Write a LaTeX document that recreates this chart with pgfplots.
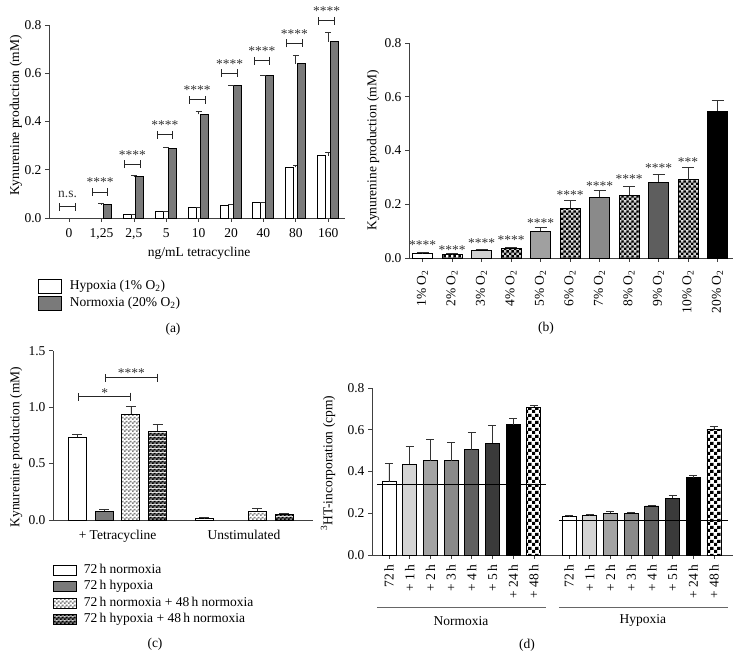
\documentclass[border=0pt]{standalone}
\usepackage{fontspec}
\setmainfont{Liberation Serif}
\usepackage{pgfplots}
\pgfplotsset{compat=1.18}
\usetikzlibrary{patterns,arrows.meta}
\newcommand\fs{\fontsize{13.5}{16}\selectfont}
\definecolor{ngrey}{HTML}{7A7A7A}
\definecolor{cthree}{HTML}{D0D0D0}
\definecolor{cfive}{HTML}{A0A0A0}
\definecolor{cseven}{HTML}{8A8A8A}
\definecolor{cnine}{HTML}{5E5E5E}
\definecolor{done}{HTML}{D4D4D4}
\definecolor{dtwo}{HTML}{A3A3A3}
\definecolor{dthree}{HTML}{8A8A8A}
\definecolor{dfour}{HTML}{606060}
\definecolor{dfive}{HTML}{3A3A3A}
% checker patterns
\pgfdeclarepatterninherentlycolored{chkB}{\pgfpointorigin}{\pgfqpoint{4.8pt}{4.8pt}}{\pgfqpoint{4.8pt}{4.8pt}}{%
  \pgfsetfillcolor{black!20}%
  \pgfpathrectangle{\pgfpointorigin}{\pgfqpoint{4.8pt}{4.8pt}}\pgfusepath{fill}%
  \pgfsetfillcolor{black}%
  \pgfpathrectangle{\pgfpointorigin}{\pgfqpoint{2.4pt}{2.4pt}}%
  \pgfpathrectangle{\pgfqpoint{2.4pt}{2.4pt}}{\pgfqpoint{2.4pt}{2.4pt}}\pgfusepath{fill}}
\pgfdeclarepatterninherentlycolored{chkW}{\pgfpointorigin}{\pgfqpoint{4.8pt}{4.8pt}}{\pgfqpoint{4.8pt}{4.8pt}}{%
  \pgfsetfillcolor{white}%
  \pgfpathrectangle{\pgfpointorigin}{\pgfqpoint{4.8pt}{4.8pt}}\pgfusepath{fill}%
  \pgfsetfillcolor{black}%
  \pgfpathrectangle{\pgfpointorigin}{\pgfqpoint{2.4pt}{2.4pt}}%
  \pgfpathrectangle{\pgfqpoint{2.4pt}{2.4pt}}{\pgfqpoint{2.4pt}{2.4pt}}\pgfusepath{fill}}
\pgfdeclarepatterninherentlycolored{chkL}{\pgfpointorigin}{\pgfqpoint{4pt}{4pt}}{\pgfqpoint{4pt}{4pt}}{%
  \pgfsetfillcolor{white}%
  \pgfpathrectangle{\pgfpointorigin}{\pgfqpoint{4pt}{4pt}}\pgfusepath{fill}%
  \pgfsetfillcolor{black!50}%
  \pgfpathrectangle{\pgfpointorigin}{\pgfqpoint{2pt}{2pt}}%
  \pgfpathrectangle{\pgfqpoint{2pt}{2pt}}{\pgfqpoint{2pt}{2pt}}\pgfusepath{fill}}
\pgfdeclarepatterninherentlycolored{chkD}{\pgfpointorigin}{\pgfqpoint{4pt}{4pt}}{\pgfqpoint{4pt}{4pt}}{%
  \pgfsetfillcolor{black!50}%
  \pgfpathrectangle{\pgfpointorigin}{\pgfqpoint{4pt}{4pt}}\pgfusepath{fill}%
  \pgfsetfillcolor{black}%
  \pgfpathrectangle{\pgfpointorigin}{\pgfqpoint{2pt}{2pt}}%
  \pgfpathrectangle{\pgfqpoint{2pt}{2pt}}{\pgfqpoint{2pt}{2pt}}\pgfusepath{fill}}
\pgfdeclarepatterninherentlycolored{chkBig}{\pgfpointorigin}{\pgfqpoint{7pt}{7pt}}{\pgfqpoint{7pt}{7pt}}{%
  \pgfsetfillcolor{white}%
  \pgfpathrectangle{\pgfpointorigin}{\pgfqpoint{7pt}{7pt}}\pgfusepath{fill}%
  \pgfsetfillcolor{black}%
  \pgfpathrectangle{\pgfpointorigin}{\pgfqpoint{3.5pt}{3.5pt}}%
  \pgfpathrectangle{\pgfqpoint{3.5pt}{3.5pt}}{\pgfqpoint{3.5pt}{3.5pt}}\pgfusepath{fill}}

\pgfplotsset{
  panel/.style={
    scale only axis, clip=false,
    axis lines=left, axis line style={-, line width=0.8pt, black!75},
    tick style={line width=0.7pt, black!75},
    tick align=outside, major tick length=4pt,
    ymin=0,
    /pgf/number format/assume math mode=true,
    tick label style={font=\fs},
    label style={font=\fs},
    y tick label style={/pgf/number format/fixed, /pgf/number format/fixed zerofill, /pgf/number format/precision=1},
    legend style={draw=none, fill=none, inner sep=0pt, outer sep=0pt, font=\fs,
      nodes={inner sep=0pt, text height=9pt, text depth=3pt}},
    legend cell align=left,
  },
  mybar/.style={ybar, draw=black, line width=0.8pt, bar shift=0pt},
  eb/.style={error bars/y dir=plus, error bars/y explicit,
    error bars/error bar style={line width=0.7pt, black!80},
    error bars/error mark options={rotate=90, mark size=#1, line width=0.7pt, black!80}},
}
\newcommand\brk[6]{%
  \draw[{Bar[width=8pt,line width=0.8pt]}-{Bar[width=8pt,line width=0.8pt]}, line width=0.8pt, black!85] (axis cs:#1,#4) -- (axis cs:#2,#4);
  \node[anchor=base, font=\fs, text=black!80, inner sep=0pt, yshift=#6] at (axis cs:#3,#4) {#5};}
\newcommand\stars[3]{\node[anchor=base, font=\fs, text=black!80, inner sep=0pt, yshift=-6pt] at (axis cs:#1,#2) {#3};}

\begin{document}
\begin{tikzpicture}
\useasboundingbox (0,0) rectangle (742pt,672pt);

% ---------------- (a) ----------------
\begin{axis}[panel, at={(49pt,454pt)}, anchor=south west, width=296pt, height=193pt,
  xmin=-0.62, xmax=8.52, ymax=0.8,
  xtick={0,1,2,3,4,5,6,7,8}, xticklabels={0,{1,25},{2,5},5,10,20,40,80,160},
  ytick={0,0.2,0.4,0.6,0.8},
  x tick label style={yshift=-3pt},
  xlabel={ng/mL tetracycline}, ylabel={Kynurenine production (mM)},
  xlabel style={at={(axis description cs:0.507,-0.181)}, anchor=center},
  ylabel style={at={(axis description cs:-0.1115,0.53)}, anchor=center},
  legend style={at={(axis description cs:-0.037,-0.316)}, anchor=north west, row sep=2pt},
  legend image code/.code={\draw[#1, line width=0.8pt] (0pt,-7pt) rectangle (23pt,7pt); \path (31pt,0pt);},
]
\addplot[mybar, fill=white, bar width=8pt, bar shift=-6.5pt, eb=3pt] coordinates {
  (2,0.015) +- (0,0.002) (3,0.026) +- (0,0.002) (4,0.043) +- (0,0.002) (5,0.054) +- (0,0.002)
  (6,0.063) +- (0,0.002) (7,0.210) +- (0,0.008) (8,0.258) +- (0,0.013)};
\addlegendentry{Hypoxia (1\% O\textsubscript{2})}
\addplot[mybar, fill=ngrey, bar width=8pt, bar shift=6pt, eb=3pt] coordinates {
  (1,0.057) +- (0,0.002) (2,0.172) +- (0,0.004) (3,0.290) +- (0,0.003) (4,0.430) +- (0,0.010)
  (5,0.548) +- (0,0.003) (6,0.590) +- (0,0.002) (7,0.640) +- (0,0.036) (8,0.730) +- (0,0.038)};
\addlegendentry{Normoxia (20\% O\textsubscript{2})}
\brk{-0.3}{0.21}{-0.045}{0.046}{n.s.}{9pt}
\brk{0.7}{1.21}{0.955}{0.108}{****}{5pt}
\brk{1.7}{2.21}{1.955}{0.223}{****}{5pt}
\brk{2.7}{3.21}{2.955}{0.345}{****}{5pt}
\brk{3.7}{4.21}{3.955}{0.490}{****}{5pt}
\brk{4.7}{5.21}{4.955}{0.600}{****}{5pt}
\brk{5.7}{6.21}{5.955}{0.652}{****}{5pt}
\brk{6.7}{7.21}{6.955}{0.724}{****}{5pt}
\brk{7.7}{8.21}{7.955}{0.817}{****}{5pt}
\end{axis}

% ---------------- (b) ----------------
\begin{axis}[panel, at={(409pt,414pt)}, anchor=south west, width=324pt, height=215pt,
  xmin=-0.458, xmax=10.525, ymax=0.8,
  xtick={0,1,2,3,4,5,6,7,8,9,10},
  xticklabels={1\% O\textsubscript{2},2\% O\textsubscript{2},3\% O\textsubscript{2},4\% O\textsubscript{2},5\% O\textsubscript{2},6\% O\textsubscript{2},7\% O\textsubscript{2},8\% O\textsubscript{2},9\% O\textsubscript{2},10\% O\textsubscript{2},20\% O\textsubscript{2}},
  x tick label style={rotate=90, anchor=east, inner xsep=8pt},
  ytick={0,0.2,0.4,0.6,0.8},
  ylabel={Kynurenine production (mM)},
  ylabel style={at={(axis description cs:-0.111,0.5)}, anchor=center},
]
\addplot[mybar, fill=white, bar width=20pt, eb=6pt] coordinates {(0,0.016) +- (0,0.004)};
\addplot[mybar, pattern=chkW, bar width=20pt, eb=6pt] coordinates {(1,0.012) +- (0,0.004)};
\addplot[mybar, fill=cthree, bar width=20pt, eb=6pt] coordinates {(2,0.029) +- (0,0.003)};
\addplot[mybar, pattern=chkB, bar width=20pt, eb=6pt] coordinates {(3,0.037) +- (0,0.003)};
\addplot[mybar, fill=cfive, bar width=20pt, eb=6pt] coordinates {(4,0.099) +- (0,0.014)};
\addplot[mybar, pattern=chkB, bar width=20pt, eb=6pt] coordinates {(5,0.186) +- (0,0.027)};
\addplot[mybar, fill=cseven, bar width=20pt, eb=6pt] coordinates {(6,0.227) +- (0,0.026)};
\addplot[mybar, pattern=chkB, bar width=20pt, eb=6pt] coordinates {(7,0.233) +- (0,0.034)};
\addplot[mybar, fill=cnine, bar width=20pt, eb=6pt] coordinates {(8,0.283) +- (0,0.027)};
\addplot[mybar, pattern=chkB, bar width=20pt, eb=6pt] coordinates {(9,0.292) +- (0,0.044)};
\addplot[mybar, fill=black, bar width=20pt, eb=6pt] coordinates {(10,0.547) +- (0,0.040)};
\stars{0}{0.053}{****}
\stars{1}{0.035}{****}
\stars{2}{0.060}{****}
\stars{3}{0.072}{****}
\stars{4}{0.136}{****}
\stars{5}{0.240}{****}
\stars{6}{0.273}{****}
\stars{7}{0.298}{****}
\stars{8}{0.339}{****}
\stars{9}{0.364}{***}
\end{axis}

% ---------------- (c) ----------------
\begin{axis}[panel, at={(53pt,152pt)}, anchor=south west, width=260pt, height=169.3pt,
  xmin=-2.416, xmax=7.32, ymax=1.5,
  xtick={0,4.74}, xticklabels={+ Tetracycline,Unstimulated},
  xtick style={draw=none},
  x tick label style={yshift=-3pt},
  ytick={0,0.5,1,1.5},
  ylabel={Kynurenine production (mM)},
  ylabel style={at={(axis description cs:-0.142,0.43)}, anchor=center},
  legend style={at={(axis description cs:0,-0.262)}, anchor=north west, row sep=4.5pt},
  legend image code/.code={\draw[#1, line width=0.8pt] (0pt,-5pt) rectangle (23pt,5pt); \path (30pt,0pt);},
]
\addplot[mybar, fill=white, bar width=18pt, eb=5pt] coordinates {(-1.5,0.732) +- (0,0.030) (3.24,0.012) +- (0,0.008)};
\addlegendentry{72\,h normoxia}
\addplot[mybar, fill=ngrey, bar width=18pt, eb=5pt] coordinates {(-0.5,0.080) +- (0,0.011)};
\addlegendentry{72\,h hypoxia}
\addplot[mybar, pattern=chkL, bar width=18pt, eb=5pt] coordinates {(0.5,0.936) +- (0,0.071) (5.24,0.077) +- (0,0.023)};
\addlegendentry{72\,h normoxia + 48\,h normoxia}
\addplot[mybar, pattern=chkD, bar width=18pt, eb=5pt] coordinates {(1.5,0.788) +- (0,0.062) (6.24,0.050) +- (0,0.009)};
\addlegendentry{72\,h hypoxia + 48\,h normoxia}
\brk{-1.47}{0.51}{-0.48}{1.092}{*}{-1pt}
\brk{-0.47}{1.505}{0.52}{1.261}{****}{0pt}
\end{axis}

% ---------------- (d) ----------------
\begin{axis}[panel, at={(372pt,117pt)}, anchor=south west, width=361pt, height=167pt,
  xmin=-0.82, xmax=16.62, ymax=0.8,
  xtick={0,1,2,3,4,5,6,7,8.7,9.7,10.7,11.7,12.7,13.7,14.7,15.7},
  xticklabels={72\,h,+ 1\,h,+ 2\,h,+ 3\,h,+ 4\,h,+ 5\,h,+ 24\,h,+ 48\,h,72\,h,+ 1\,h,+ 2\,h,+ 3\,h,+ 4\,h,+ 5\,h,+ 24\,h,+ 48\,h},
  x tick label style={rotate=90, anchor=east, inner xsep=6pt},
  ytick={0,0.2,0.4,0.6,0.8},
  ylabel={\textsuperscript{3}HT-incorporation (cpm)},
  ylabel style={at={(axis description cs:-0.122,0.55)}, anchor=center},
]
\addplot[mybar, fill=white, bar width=14pt, eb=4pt] coordinates {(0,0.352) +- (0,0.085) (8.7,0.184) +- (0,0.006)};
\addplot[mybar, fill=done, bar width=14pt, eb=4pt] coordinates {(1,0.434) +- (0,0.086) (9.7,0.192) +- (0,0.002)};
\addplot[mybar, fill=dtwo, bar width=14pt, eb=4pt] coordinates {(2,0.451) +- (0,0.101) (10.7,0.200) +- (0,0.011)};
\addplot[mybar, fill=dthree, bar width=14pt, eb=4pt] coordinates {(3,0.451) +- (0,0.088) (11.7,0.200) +- (0,0.006)};
\addplot[mybar, fill=dfour, bar width=14pt, eb=4pt] coordinates {(4,0.504) +- (0,0.085) (12.7,0.235) +- (0,0.003)};
\addplot[mybar, fill=dfive, bar width=14pt, eb=4pt] coordinates {(5,0.536) +- (0,0.086) (13.7,0.272) +- (0,0.013)};
\addplot[mybar, fill=black, bar width=14pt, eb=4pt] coordinates {(6,0.624) +- (0,0.029) (14.7,0.370) +- (0,0.012)};
\addplot[mybar, pattern=chkBig, bar width=14pt, eb=4pt] coordinates {(7,0.709) +- (0,0.009) (15.7,0.603) +- (0,0.011)};
\addplot[black, line width=0.8pt] coordinates {(-0.58,0.336) (7.58,0.336)};
\addplot[black, line width=0.8pt] coordinates {(8.21,0.168) (16.38,0.168)};
\draw[line width=0.8pt, black!60] (axis cs:-0.58,-0.249) -- (axis cs:7.58,-0.249);
\draw[line width=0.8pt, black!60] (axis cs:8.21,-0.249) -- (axis cs:16.38,-0.249);
\node[font=\fs] at (axis cs:3.48,-0.316) {Normoxia};
\node[font=\fs] at (axis cs:12.27,-0.316) {Hypoxia};
\end{axis}

\node[font=\fs] at (173pt,343pt) {(a)};
\node[font=\fs] at (546pt,344pt) {(b)};
\node[font=\fs] at (155pt,28pt) {(c)};
\node[font=\fs] at (527pt,27pt) {(d)};
\end{tikzpicture}
\end{document}
